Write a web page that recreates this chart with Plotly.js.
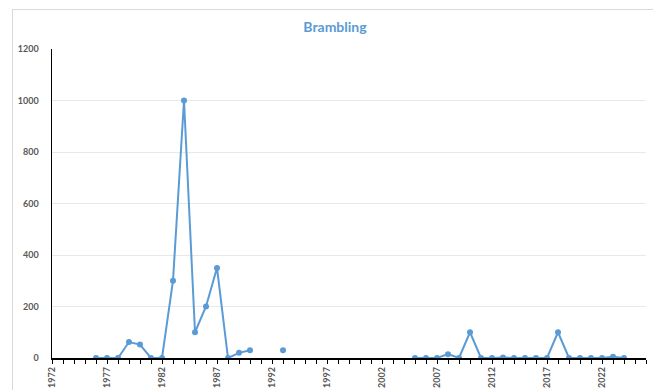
<!DOCTYPE html>
<html><head><meta charset="utf-8">
<script src="https://cdn.plot.ly/plotly-3.0.1.min.js"></script>
<style>
html,body{margin:0;padding:0;background:#fff;overflow:hidden}
#frame{position:absolute;left:12px;top:9px;width:700px;height:420px;border:1px solid #d9d9d9;box-sizing:border-box}
#chart{position:absolute;left:0;top:0;width:653px;height:390px}
</style></head>
<body>
<div id="frame"></div>
<div id="chart"></div>
<script>
const years = [1976,1977,1978,1979,1980,1981,1982,1983,1984,1985,1986,1987,1988,1989,1990,1991,1992,1993,1994,1995,1996,1997,1998,1999,2000,2001,2002,2003,2004,2005,2006,2007,2008,2009,2010,2011,2012,2013,2014,2015,2016,2017,2018,2019,2020,2021,2022,2023,2024];
const counts = [0,0,0,62,52,0,0,300,1000,100,200,350,0,20,30,null,null,30,null,null,null,null,null,null,null,null,null,null,null,0,0,0,15,0,100,0,0,2,0,0,0,0,100,0,0,0,0,5,0];
const titleText = "Brambling";
const yTicks = [0,200,400,600,800,1000,1200];
const xTickLabels = [1972,1977,1982,1987,1992,1997,2002,2007,2012,2017,2022];

const blue = "#5B9BD5";
const tickFont = {family: "Lato, 'Open Sans', sans-serif", size: 9, color: "#595959", weight: 700};

const trace = {
  x: years, y: counts, type: "scatter", mode: "lines+markers",
  connectgaps: false,
  line: {color: blue, width: 2},
  marker: {color: blue, size: 6},
  hoverinfo: "skip"
};

const layout = {
  width: 653, height: 390,
  margin: {l: 52, r: 7, t: 49, b: 32},
  paper_bgcolor: "rgba(0,0,0,0)",
  plot_bgcolor: "rgba(0,0,0,0)",
  showlegend: false,
  title: {
    text: "<b>" + titleText + "</b>",
    font: {family: "Lato, 'Open Sans', sans-serif", size: 14, color: blue},
    xref: "container", x: 335/653, xanchor: "center",
    yref: "container", y: 1 - 27/390, yanchor: "middle"
  },
  xaxis: {
    type: "linear", range: [1972, 2026],
    tickmode: "array", tickvals: xTickLabels, ticktext: xTickLabels.map(String),
    tickangle: -90, tickfont: tickFont,
    ticks: "outside", ticklen: 4, tickwidth: 1, tickcolor: "#000",
    minor: {dtick: 1, tick0: 1972, ticks: "outside", ticklen: 4, tickwidth: 1, tickcolor: "#000", showgrid: false},
    showline: true, linecolor: "#000", linewidth: 1.5,
    showgrid: false, zeroline: false, fixedrange: true
  },
  yaxis: {
    range: [0, 1200], tickmode: "array", tickvals: yTicks, ticktext: yTicks.map(String),
    tickfont: tickFont, ticks: "", ticklabelstandoff: 10,
    showline: true, linecolor: "#000", linewidth: 1.5,
    showgrid: true, gridcolor: "#e8e8e8", gridwidth: 1,
    zeroline: false, fixedrange: true
  }
};

Plotly.newPlot("chart", [trace], layout, {staticPlot: true, displayModeBar: false});
</script>
</body></html>
